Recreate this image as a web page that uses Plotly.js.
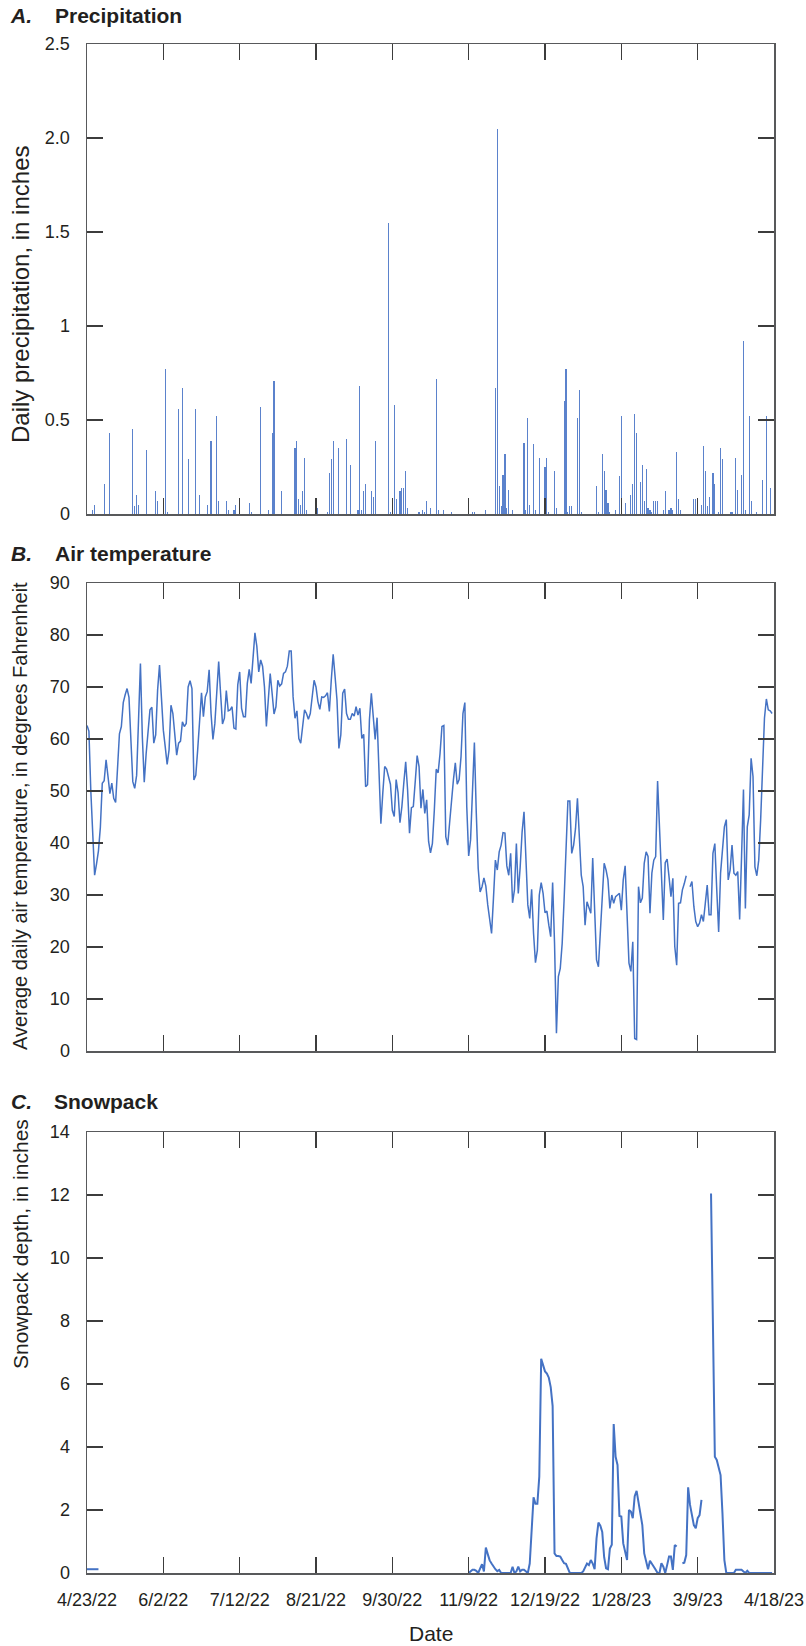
<!DOCTYPE html>
<html>
<head>
<meta charset="utf-8">
<script src="https://cdn.plot.ly/plotly-3.0.1.min.js"></script>
<style>html,body{margin:0;padding:0;background:#fff;}</style>
</head>
<body>
<div id="chart" style="width:806px;height:1646px;"></div>
<script>
// ---- Data (daily series starting 4/23/22) ----
const startDate = '2022-04-23';
const endDate = '2023-04-18';
const tickDates = ['2022-04-23','2022-06-02','2022-07-12','2022-08-21','2022-09-30','2022-11-09','2022-12-19','2023-01-28','2023-03-09','2023-04-18'];
const tickLabels = ['4/23/22','6/2/22','7/12/22','8/21/22','9/30/22','11/9/22','12/19/22','1/28/23','3/9/23','4/18/23'];

const precipTickVals = [0,0.5,1,1.5,2,2.5];
const precipTickText = ['0','0.5','1','1.5','2.0','2.5'];

// Daily precipitation, inches
const precipitation = [
0,0,0,0.02,0.05,0,0,0,0,0.16,
0,0,0.43,0,0,0,0,0,0,0,
0,0,0,0,0.45,0.04,0.10,0.05,0,0,
0,0.34,0,0,0,0,0.12,0.07,0,0,
0,0.77,0.01,0,0,0,0,0,0.56,0,
0.67,0,0,0.29,0,0,0,0.56,0,0.10,
0,0,0,0.05,0,0.39,0,0,0.52,0.07,
0,0,0,0.07,0.02,0,0,0.02,0.05,0,
0,0,0,0,0,0.06,0.01,0,0,0,
0,0.57,0,0,0,0.02,0,0.43,0.71,0,
0,0,0.12,0,0,0,0,0,0,0.35,
0.39,0.08,0.05,0.12,0.30,0.02,0,0,0,0,
0,0.03,0,0,0,0,0.01,0.22,0.29,0.39,
0,0,0.35,0,0,0,0.40,0,0.26,0,
0,0,0.02,0.68,0.02,0.12,0.16,0,0,0.12,
0.09,0.39,0,0,0,0,0,0,1.55,0.01,
0,0.58,0.08,0,0.12,0.14,0.14,0.23,0.03,0,
0,0,0,0,0.01,0,0.02,0.01,0.07,0,
0.03,0,0,0.72,0.02,0,0,0.02,0,0,
0,0.01,0,0,0,0,0,0,0,0,
0,0,0.01,0.01,0,0,0,0,0,0.02,
0,0,0,0,0.67,2.05,0.15,0.04,0.21,0.32,
0.03,0.13,0,0.02,0,0,0,0,0,0.38,
0.02,0.51,0.05,0,0.37,0.02,0,0.30,0,0,
0.25,0.30,0.01,0,0,0.23,0.03,0,0,0,
0.60,0.77,0.01,0.04,0.04,0,0,0.51,0.66,0.01,
0,0,0,0,0,0,0,0.15,0.01,0,
0.32,0.23,0.13,0.06,0.01,0,0,0.02,0,0.20,
0.52,0,0.06,0,0,0.10,0.16,0.53,0.43,0,
0.17,0.26,0.07,0.24,0.03,0.02,0.01,0.07,0.07,0.07,
0,0,0.02,0.12,0,0.02,0.03,0.02,0,0.33,
0.08,0.02,0,0,0,0,0,0,0.08,0.08,
0,0,0.05,0.36,0.23,0.04,0.09,0,0.22,0.16,
0,0.01,0.35,0.29,0,0,0,0.01,0.01,0,
0.30,0.13,0,0.21,0.92,0.02,0,0.52,0.07,0,
0,0.01,0,0,0.18,0,0.52,0,0.14,0,
0
];

// Average daily air temperature, degrees Fahrenheit
const airTemperature = [
62.6,61.5,50,40,33.8,36,38.5,43,51.5,52,
56,52.8,49.5,51.5,48.6,47.8,55,61,62.4,67,
68.5,69.7,68,59.8,51.8,50.5,53,63.6,74.5,60.4,
51.7,57.2,62.4,65.6,66.1,59.2,60.8,69.4,74.2,67.5,
61.7,58.5,55.1,57.9,66.5,64.9,61.1,56.9,59.2,59.6,
63.3,62.4,63,70,71.2,69.7,52.1,53,57.9,63.7,
68.9,64.3,68.1,69.1,73.3,64.9,59.9,63,69.4,74.9,
68.8,62.9,64,69.3,65.4,65.6,66.2,62.1,61.9,70.4,
72.9,65.9,64.3,64.3,70.7,73.4,70.7,75.8,80.4,77.8,
72.9,75.2,74,70,62.4,67.5,72.6,68.8,64.8,66.2,
71.3,70.2,70.6,72.6,72.9,74,76.9,76.9,68.1,64,
65.4,60.1,59.2,62.4,65.6,64.9,63.8,64.9,68.1,71.3,
70,67.2,65.7,68.1,68,68.3,68.9,65.3,71.3,76.3,
72,67.5,58.2,60.8,68.8,69.6,64.9,63.8,63.8,64.9,
64.4,66.2,64.6,65.9,60.1,60.9,50.8,51.2,63.7,68.8,
64.3,59.9,64.1,54.7,43.7,49.6,54.7,54.2,52.4,51.3,
46.3,45.1,52.2,49.7,43.9,47,51.5,55.6,50.2,41.9,
46.8,47,51.8,56.8,54.7,46.7,50.3,45.7,48.3,40.3,
38.1,39.9,46.3,54.2,53.5,57.2,62.4,62.6,41.2,39.6,
43.8,48.9,52.1,55.4,51.3,52.2,56.6,64.9,67,47,
37.5,40.6,52.1,59.3,45.7,35.1,30.6,31.6,33.3,31.7,
28.1,25.8,22.6,29.4,36.7,34.8,38.3,39.6,42,41.9,
35.6,33.8,38,28.5,31,39.9,30.3,35.4,42.1,46,
38,28.1,25.5,31.1,22.6,17,19.4,30,32.4,30.3,
26.6,26.9,24.2,22,32.4,20.7,3.4,14.3,15.9,20.7,
29,39.9,48.1,48.1,38,39.6,42.8,48.6,41.9,33.8,
31.6,24.2,28.7,27.4,26.5,37.1,26.5,17.5,16.2,22.6,
29,36.1,34.8,32.9,27.4,30,28.4,29.7,30,30.3,
27.1,32.9,35.6,26.5,16.9,15.3,21,2.4,2.2,31.6,
28.5,29.4,36.1,38.3,37.4,26.5,34.2,36.7,37.4,51.9,
43.5,34.8,25.2,36.2,36.9,33.5,29.7,33.2,20.1,16.5,
28.4,28.5,31,32.2,33.7,null,31.6,32.6,27.8,24.9,
23.9,24.6,26.2,24.9,28.4,31.9,26.2,26.2,38,39.9,
31,22.9,34.2,39.3,43.1,44.5,32.9,34.8,39.6,34.2,
33.8,34.5,25.3,37.4,50.3,27.4,43.1,45.4,56.3,52.8,
35.4,33.7,36.7,44.4,54,64,67.7,65.6,65.4,64.9
];

// Snowpack depth, inches (null = no record)
const snowpack = [
0.12,0.12,0.12,0.12,0.12,0.12,0.12,null,null,null,
null,null,null,null,null,null,null,null,null,null,
null,null,null,null,null,null,null,null,null,null,
null,null,null,null,null,null,null,null,null,null,
null,null,null,null,null,null,null,null,null,null,
null,null,null,null,null,null,null,null,null,null,
null,null,null,null,null,null,null,null,null,null,
null,null,null,null,null,null,null,null,null,null,
null,null,null,null,null,null,null,null,null,null,
null,null,null,null,null,null,null,null,null,null,
null,null,null,null,null,null,null,null,null,null,
null,null,null,null,null,null,null,null,null,null,
null,null,null,null,null,null,null,null,null,null,
null,null,null,null,null,null,null,null,null,null,
null,null,null,null,null,null,null,null,null,null,
null,null,null,null,null,null,null,null,null,null,
null,null,null,null,null,null,null,null,null,null,
null,null,null,null,null,null,null,null,null,null,
null,null,null,null,null,null,null,null,null,null,
null,null,null,null,null,null,null,null,null,null,
0,0.04,0.1,0.1,0.07,0,0.15,0.28,0.05,0.81,
0.6,0.4,0.3,0.2,0.12,0.06,0.1,0,0,0,
0,0,0,0.2,0,0.05,0.2,0.05,0.1,0.1,
0.04,0,0.3,1.2,2.4,2.2,2.2,3.06,6.8,6.6,
6.4,6.33,6.2,5.9,5.3,0.62,0.54,0.54,0.52,0.41,
0.31,0.29,0.12,0,0,0,0,0,0,0,
0.05,0.2,0.3,0.25,0.41,0.3,0.12,1.1,1.6,1.5,
1.3,0.5,0.15,0.12,0.78,0.9,4.73,3.69,3.43,1.81,
1.79,0.94,0.65,0.41,2,1.95,1.74,2.44,2.61,2.21,
1.84,1.52,0.62,0.41,0.12,0.39,0.31,0.2,0.1,0,
0,0.31,0.2,0,0.25,0.52,0.52,0.1,0.89,0.84,
null,null,0.31,0.33,0.57,2.72,2.16,1.8,1.52,1.42,
1.74,1.84,2.32,null,null,null,null,12.05,8.5,3.69,
3.59,3.38,3.11,1.89,0.41,0,0,0,0,0,
0.1,0.1,0.1,0.1,0.05,0,0.07,0,0,0,
0,0,0,0,0,0,0,0,0,0
];

// ---- Helpers ----
function dailyDates(n) {
  const t0 = Date.parse(startDate + 'T00:00:00Z');
  const out = [];
  for (let i = 0; i < n; i++) out.push(new Date(t0 + i * 86400000).toISOString().slice(0, 10));
  return out;
}

const TEXT = '#231f20';
const FAMILY = '"Liberation Sans", Arial, sans-serif';
const tickFont = {family: FAMILY, size: 18, color: TEXT};
const BLUE = '#4472c4';

const axisBase = {
  showline: true, linecolor: '#58595b', linewidth: 1.5, mirror: 'ticks',
  ticks: 'inside', ticklen: 16, tickwidth: 1.5, tickcolor: '#3c3c3c',
  showgrid: false, zeroline: false, tickfont: tickFont, fixedrange: true
};
function xAxis(anchor, showLabels) {
  return Object.assign({}, axisBase, {
    type: 'date', range: [startDate, endDate], anchor: anchor,
    tickmode: 'array', tickvals: tickDates, ticktext: tickLabels, tickangle: 0,
    showticklabels: showLabels, ticklabelstandoff: 10
  });
}

// paper coordinates from pixel positions of the 806x1646 figure
const M = {l: 87, r: 32, t: 44, b: 73};
const W = 806 - M.l - M.r, H = 1646 - M.t - M.b;
const px = x => (x - M.l) / W;
const py = y => (1646 - M.b - y) / H;

const traces = [
  {type: 'bar', x: dailyDates(precipitation.length), y: precipitation, xaxis: 'x', yaxis: 'y',
   width: 0.6 * 86400000, marker: {color: '#5b82cc', line: {width: 0}}, hoverinfo: 'x+y'},
  {type: 'scatter', mode: 'lines', x: dailyDates(airTemperature.length), y: airTemperature,
   xaxis: 'x2', yaxis: 'y2', line: {color: BLUE, width: 1.5}, connectgaps: false},
  {type: 'scatter', mode: 'lines', x: dailyDates(snowpack.length), y: snowpack,
   xaxis: 'x3', yaxis: 'y3', line: {color: BLUE, width: 2}, connectgaps: false}
];

function ann(text, x, y, opts) {
  return Object.assign({text: text, xref: 'paper', yref: 'paper', x: px(x), y: py(y),
    showarrow: false, xanchor: 'left', yanchor: 'middle',
    font: {family: FAMILY, size: 21, color: TEXT}}, opts || {});
}
function ytitle(text, y, size) {
  return ann(text, 20, y, {textangle: -90, xanchor: 'center', font: {family: FAMILY, size: size, color: TEXT}});
}

const layout = {
  width: 806, height: 1646, margin: M, showlegend: false,
  paper_bgcolor: '#fff', plot_bgcolor: '#fff', bargap: 0,
  xaxis: xAxis('y', false),
  xaxis2: xAxis('y2', false),
  xaxis3: xAxis('y3', true),
  yaxis: Object.assign({}, axisBase, {domain: [py(514), 1], range: [0, 2.5], anchor: 'x',
    tickmode: 'array', tickvals: precipTickVals, ticktext: precipTickText, ticklabelstandoff: 12}),
  yaxis2: Object.assign({}, axisBase, {domain: [py(1051), py(583)], range: [0, 90], dtick: 10, anchor: 'x2', ticklabelstandoff: 12}),
  yaxis3: Object.assign({}, axisBase, {domain: [0, py(1132)], range: [0, 14], dtick: 2, anchor: 'x3', ticklabelstandoff: 12}),
  annotations: [
    ann('<b><i>A.</i></b>', 8, 16),
    ann('<b>Precipitation</b>', 53, 16),
    ann('<b><i>B.</i></b>', 9, 553),
    ann('<b>Air temperature</b>', 53, 553),
    ann('<b><i>C.</i></b>', 9, 1101),
    ann('<b>Snowpack</b>', 52, 1101),
    ytitle('Daily precipitation, in inches', 295, 24),
    ytitle('Average daily air temperature, in degrees Fahrenheit', 816, 20),
    ytitle('Snowpack depth, in inches', 1244, 21),
    ann('Date', 430.5, 1633, {xanchor: 'center', font: {family: FAMILY, size: 21, color: TEXT}})
  ]
};

Plotly.newPlot('chart', traces, layout, {displayModeBar: false, staticPlot: true});
</script>
</body>
</html>
